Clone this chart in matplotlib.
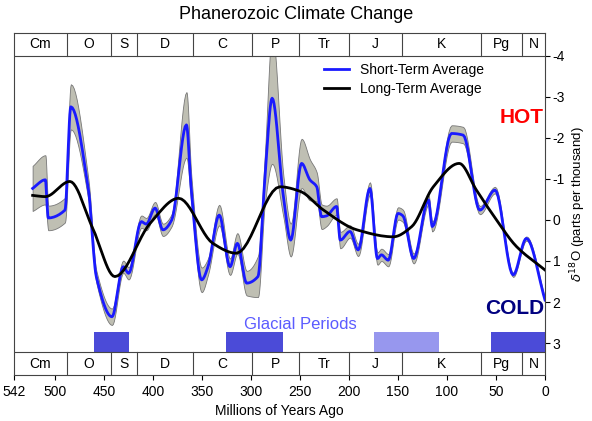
import numpy as np
import matplotlib.pyplot as plt
from matplotlib.patches import Rectangle

plt.rcParams['font.family'] = ['Liberation Sans', 'DejaVu Sans']

# Short-term average (Ma, delta18O) and half width of grey band
st_age = [523, 510, 507, 490, 484, 466, 458, 442, 430.5, 425, 412, 407, 398, 390, 381,
          366, 361, 350.5, 344, 332.5, 321.5, 314, 304.5, 293, 286, 278.5, 267, 259.5,
          248.5, 240, 233, 228, 223, 212.7, 209, 199, 190.7, 178.7, 171, 167, 160, 150,
          145, 134, 119, 115, 95.4, 83.5, 66.5, 51, 32.5, 19, 0]
st_val = [-0.77, -0.98, -0.05, -0.24, -2.76, -0.73, 1.38, 2.36, 1.14, 1.3, 0.04, 0.1, -0.29,
          0.24, 0.0, -2.32, -0.73, 1.46, 1.14, -0.12, 1.14, 0.57, 1.54, 1.38, -0.98, -2.97,
          -0.57, 0.49, -1.38, -0.98, -0.81, -0.08, -0.1, -0.33, 0.49, 0.28, 0.73, -0.77,
          0.94, 0.85, 0.98, -0.16, -0.1, 0.94, -0.49, 0.16, -2.11, -2.07, -0.24, -0.73,
          1.34, 0.45, 1.95]
st_err = [0.55, 0.6, 0.3, 0.3, 0.55, 0.25, 0.15, 0.2, 0.15, 0.15, 0.15, 0.15, 0.15,
          0.15, 0.15, 0.8, 0.35, 0.3, 0.2, 0.25, 0.2, 0.25, 0.3, 0.5, 0.6, 1.6,
          0.5, 0.4, 0.6, 0.5, 0.35, 0.3, 0.25, 0.2, 0.2, 0.15, 0.15, 0.15,
          0.15, 0.15, 0.15, 0.15, 0.15, 0.12, 0.12, 0.12, 0.2, 0.2, 0.1, 0.08,
          0.05, 0.05, 0.05]

# Long-term average
lt_age = [523, 510, 485, 461, 439, 403, 374, 339, 315, 270.6, 250, 226, 192, 155, 136,
          114, 87.6, 70, 49.5, 29, 0]
lt_val = [-0.6, -0.57, -0.94, 0.24, 1.38, 0.08, -0.53, 0.57, 0.81, -0.81, -0.7, -0.24,
          0.24, 0.41, 0.16, -0.81, -1.38, -0.73, 0.0, 0.65, 1.22]

periods = ['Cm', 'O', 'S', 'D', 'C', 'P', 'Tr', 'J', 'K', 'Pg', 'N']
bounds = [542, 488, 443, 416, 359, 299, 251, 200, 146, 65.5, 23, 0]

glacial = [(460, 425, '#4b4bd8'), (326, 267, '#4b4bd8'), (175, 108, '#9797ee'), (55, 0, '#4b4bd8')]


def smooth(x, y, n=12):
    # monotone cubic hermite between the read points, for drawing only
    x = np.asarray(x, float)[::-1]
    y = np.asarray(y, float)[::-1]
    h = np.diff(x)
    d = np.diff(y) / h
    m = np.zeros_like(y)
    m[0], m[-1] = d[0], d[-1]
    for i in range(1, len(y) - 1):
        if d[i - 1] * d[i] > 0:
            m[i] = 2 / (1 / d[i - 1] + 1 / d[i])
    xs, ys = [], []
    for i in range(len(h)):
        t = np.linspace(0, 1, n, endpoint=False)
        h00 = 2 * t**3 - 3 * t**2 + 1
        h10 = t**3 - 2 * t**2 + t
        h01 = -2 * t**3 + 3 * t**2
        h11 = t**3 - t**2
        xs.extend(x[i] + t * h[i])
        ys.extend(h00 * y[i] + h10 * h[i] * m[i] + h01 * y[i + 1] + h11 * h[i] * m[i + 1])
    xs.append(x[-1])
    ys.append(y[-1])
    return np.array(xs), np.array(ys)


fig = plt.figure(figsize=(5.92, 4.21), dpi=100)
ax = fig.add_axes([14 / 592, 1 - 375 / 421, 531 / 592, 342 / 421])
ax.set_xlim(542, 0)
ax.set_ylim(3.78, -4.56)

lo = [v - e for v, e in zip(st_val, st_err)]
hi = [v + e for v, e in zip(st_val, st_err)]
sx, slo = smooth(st_age, lo)
_, shi = smooth(st_age, hi)
ax.fill_between(sx, slo, shi, color='#bfbfb3', edgecolor='#777777', lw=0.6, zorder=1)
sx, sv = smooth(st_age, st_val)
ax.plot(sx, sv, color='#1a1aff', lw=2, zorder=3, label='Short-Term Average')
lx, lv = smooth(lt_age, lt_val)
ax.plot(lx, lv, color='black', lw=2, zorder=4, label='Long-Term Average')

# period bars top and bottom
for y0, y1 in [(-4.56, -4.0), (3.22, 3.78)]:
    ax.add_patch(Rectangle((542, y0), -542, y1 - y0, facecolor='white', edgecolor='#444444', lw=0.8, zorder=5))
    for i, p in enumerate(periods):
        if i > 0:
            ax.plot([bounds[i], bounds[i]], [y0, y1], color='#444444', lw=0.8, zorder=6)
        ax.text((bounds[i] + bounds[i + 1]) / 2, (y0 + y1) / 2, p, ha='center', va='center',
                fontsize=10, zorder=7)

for a, b, c in glacial:
    ax.add_patch(Rectangle((a, 2.73), b - a, 0.49, facecolor=c, edgecolor='none', zorder=2))

ax.text(250, 2.55, 'Glacial Periods', color='#5b5bff', fontsize=12, ha='center', va='center')
ax.text(1, -2.5, 'HOT', color='#ff0000', fontsize=15, fontweight='bold', ha='right', va='center')
ax.text(1, 2.15, 'COLD', color='#000080', fontsize=15, fontweight='bold', ha='right', va='center')

ax.legend(loc='upper left', bbox_to_anchor=(0.56, 0.95), frameon=False, fontsize=10,
          handlelength=1.8, labelspacing=0.4)

ax.set_xticks([542, 500, 450, 400, 350, 300, 250, 200, 150, 100, 50, 0])
ax.tick_params(axis='x', direction='out', labelsize=10)
ax.yaxis.tick_right()
ax.yaxis.set_label_position('right')
ax.set_yticks([-4, -3, -2, -1, 0, 1, 2, 3])
ax.set_yticklabels(['-4', '-3', '-2', '-1', '0', '1', '2', '3'])
ax.tick_params(axis='y', direction='out', labelsize=10, pad=2)
ax.set_ylabel(r'$\delta^{18}$O (parts per thousand)', fontsize=9.5, labelpad=2)
ax.set_xlabel('Millions of Years Ago', fontsize=10)
for s in ax.spines.values():
    s.set_color('#444444')
    s.set_linewidth(0.8)
fig.text(0.5, 0.965, 'Phanerozoic Climate Change', ha='center', va='center', fontsize=13)

plt.savefig('out.png', dpi=100)
plt.close()
